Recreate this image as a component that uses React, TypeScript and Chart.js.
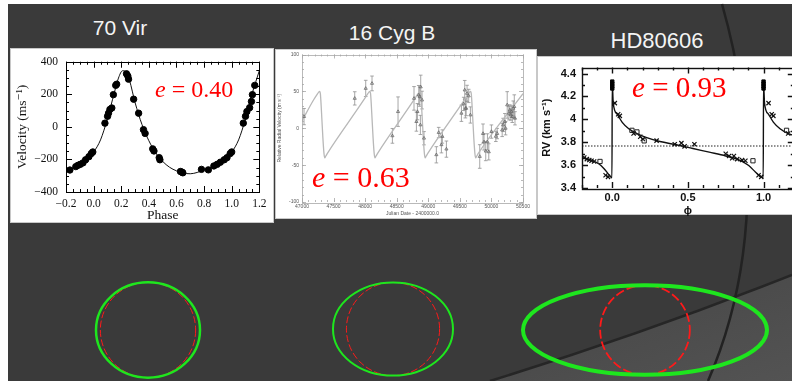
import React, { useEffect, useRef } from "react";
import { Chart, registerables } from "chart.js";

Chart.register(...registerables);

// ---------------- 70 Vir ----------------
const virPhase = [-0.172, -0.129, -0.113, -0.096, -0.077, -0.058, -0.034, -0.017, -0.006, 0.082, 0.101, 0.108, 0.118, 0.132, 0.143, 0.16, 0.167, 0.238, 0.248, 0.253, 0.29, 0.326, 0.361, 0.373, 0.428, 0.437, 0.475, 0.48, 0.629, 0.64, 0.646, 0.781, 0.831, 0.871, 0.895, 0.918, 0.946, 0.966, 0.989, 1.0, 1.084, 1.1, 1.11, 1.13, 1.143, 1.15, 1.167];
const virVel = [-265, -244, -236, -230, -221, -202, -183, -164, -154, 23, 65, 84, 107, 116, 198, 255, 262, 326, 312, 293, 170, 84, -17, -40, -135, -148, -189, -202, -274, -278, -282, -261, -264, -240, -230, -217, -202, -189, -164, -154, 23, 65, 94, 118, 156, 198, 255];
const virModelPhase = [-0.2, -0.15, -0.1, -0.05, 0.0, 0.05, 0.1, 0.15, 0.18, 0.21, 0.23, 0.26, 0.3, 0.35, 0.4, 0.45, 0.5, 0.55, 0.6, 0.65, 0.7, 0.75, 0.8, 0.85, 0.9, 0.95, 1.0, 1.05, 1.1, 1.15, 1.2];
const virModelVel = [-272, -252, -230, -205, -155, -80, 50, 210, 300, 345, 340, 285, 150, 15, -85, -160, -212, -248, -270, -284, -288, -280, -264, -250, -228, -200, -155, -80, 50, 210, 345];
const virXTicks = [-0.2, 0, 0.2, 0.4, 0.6, 0.8, 1.0, 1.2];
const virXLabels = ["\u22120.2", "0.0", "0.2", "0.4", "0.6", "0.8", "1.0", "1.2"];
const virYTicks = [-400, -200, 0, 200, 400];
const virYLabels = ["\u2212400", "\u2212200", "0", "200", "400"];

// ---------------- 16 Cyg B ----------------
const cygJD = [47032, 47835, 48009, 48109, 48432, 48521, 48774, 48812, 48828, 48849, 48864, 48880, 48901, 48875, 48932, 49128, 49165, 49208, 49223, 49287, 49525, 49561, 49588, 49577, 49614, 49640, 49667, 49600, 49815, 49867, 49883, 49910, 49937, 49958, 50000, 50070, 50091, 50186, 50213, 50224, 50250, 50277, 50292, 50308, 50319, 50330, 50346, 50362, 50373, 50170];
const cygRV = [15.8, 40.5, 54, 60.8, -10.3, 22.5, 40.5, 9, 22.5, 45, 42.8, 56, 38.2, 4.5, -13.5, -36, -5.8, -22.4, -11.2, -28.3, 20.3, 33, 27, 51.8, 47.3, 43.8, 18, 27, -38.3, -7.2, -18.5, -31, -18.5, -32, -4.5, -11, -7.2, 4.5, 9, 0, 31.6, 20.3, 24.8, 18, 22.5, 15.8, 27, 29.3, 13.5, -2.3];
const cygErr = [11, 9, 11, 10, 10, 20, 16, 13, 11, 13, 13, 16, 12, 13, 9, 11, 7, 11, 9, 11, 11, 9, 13, 13, 11, 9, 11, 10, 16, 13, 11, 13, 11, 11, 9, 7, 7, 9, 11, 9, 18, 9, 7, 7, 8, 8, 10, 16, 9, 9];
const cygModelJD = [47000, 47180, 47240, 47265, 47280, 47292, 47310, 47330, 47348, 47360, 47375, 47410, 47975, 48035, 48060, 48075, 48087, 48105, 48125, 48143, 48155, 48170, 48205, 48770, 48830, 48855, 48870, 48882, 48900, 48920, 48938, 48950, 48965, 49000, 49570, 49630, 49655, 49670, 49682, 49700, 49720, 49738, 49750, 49765, 49800, 50500];
const cygModelRV = [10, 38, 46, 49, 50, 46, 20, -12, -34, -40, -38, -33, 38, 46, 49, 50, 46, 20, -12, -34, -40, -38, -33, 38, 46, 49, 50, 46, 20, -12, -34, -40, -38, -33, 38, 46, 49, 50, 46, 20, -12, -34, -40, -38, -33, 47];
const cygXTicks = [47000, 47500, 48000, 48500, 49000, 49500, 50000, 50500];
const cygXLabels = ["47000", "47500", "48000", "48500", "49000", "49500", "50000", "50500"];
const cygYTicks = [-100, -50, 0, 50, 100];
const cygYLabels = ["-100", "-50", "0", "50", "100"];

// ---------------- HD80606 ----------------
const hdModelPhase = [-0.2, -0.142, -0.087, -0.054, -0.028, -0.01, -0.002, 0.0, 0.0065, 0.033, 0.066, 0.109, 0.163, 0.228, 0.315, 0.424, 0.533, 0.641, 0.75, 0.837, 0.902, 0.946, 0.978, 0.998, 1.0, 1.0065, 1.033, 1.066, 1.109, 1.163, 1.2];
const hdModelRV = [3.662, 3.644, 3.61, 3.568, 3.526, 3.497, 3.49, 4.32, 4.142, 4.044, 3.974, 3.918, 3.876, 3.84, 3.806, 3.778, 3.745, 3.713, 3.68, 3.646, 3.596, 3.54, 3.503, 3.49, 4.32, 4.142, 4.044, 3.974, 3.918, 3.876, 3.86];
const hdCrossPhase = [-0.185, -0.168, -0.152, -0.137, -0.12, -0.044, -0.028, 0.017, 0.039, 0.05, 0.141, 0.185, 0.202, 0.293, 0.413, 0.457, 0.478, 0.543, 0.75, 0.772, 0.793, 0.804, 0.826, 0.858, 0.88, 0.967, 0.985, 1.033, 1.054, 1.065, 1.163];
const hdCrossRV = [3.666, 3.652, 3.644, 3.638, 3.632, 3.512, 3.497, 4.142, 4.044, 4.03, 3.876, 3.848, 3.828, 3.814, 3.783, 3.792, 3.764, 3.783, 3.699, 3.68, 3.66, 3.68, 3.652, 3.644, 3.638, 3.512, 3.497, 4.142, 4.044, 4.03, 3.876];
const hdSquarePhase = [-0.081, 0.13, 0.163, 0.211, 0.93, 1.152];
const hdSquareRV = [3.632, 3.904, 3.89, 3.812, 3.638, 3.904];
const hdPeakPhase = [0, 0, 0, 0, 1, 1, 1, 1];
const hdPeakRV = [4.33, 4.31, 4.29, 4.27, 4.33, 4.31, 4.29, 4.27];
const hdMeanRV = 3.767;
const hdXTicks = [0, 0.5, 1.0];
const hdXLabels = ["0.0", "0.5", "1.0"];
const hdYTicks = [3.4, 3.6, 3.8, 4.0, 4.2, 4.4];
const hdYLabels = ["3.4", "3.6", "3.8", "4", "4.2", "4.4"];

// ---------------- Orbits ----------------
const starNames = ["70 Vir", "16 Cyg B", "HD80606"];
const eccentricities = [0.40, 0.63, 0.93];
const eccLabels = ["0.40", "0.63", "0.93"];

// ---------------- helpers ----------------
const pts = (xs: number[], ys: number[]) => xs.map((x, i) => ({ x, y: ys[i] }));
const labelFor = (ticks: number[], labels: string[]) => (v: any) => {
  const i = ticks.findIndex((t) => Math.abs(t - Number(v)) < 1e-6);
  return i >= 0 ? labels[i] : "";
};
const setTicks = (ticks: number[]) => (s: any) => {
  s.ticks = ticks.map((v) => ({ value: v }));
};

const frameTicks = {
  id: "frameTicks",
  afterDatasetsDraw(chart: any, _a: any, o: any) {
    const { ctx, chartArea: a, scales } = chart;
    ctx.save();
    ctx.strokeStyle = o.color;
    ctx.lineWidth = o.width;
    ctx.beginPath();
    const marks = (scale: any, step: number, len: number, horiz: boolean) => {
      const n0 = Math.ceil(scale.min / step - 1e-6);
      const n1 = Math.floor(scale.max / step + 1e-6);
      for (let n = n0; n <= n1; n++) {
        const p = Math.round(scale.getPixelForValue(n * step)) + 0.5;
        if (horiz) {
          ctx.moveTo(p, a.bottom); ctx.lineTo(p, a.bottom - len);
          ctx.moveTo(p, a.top); ctx.lineTo(p, a.top + len);
        } else {
          ctx.moveTo(a.left, p); ctx.lineTo(a.left + len, p);
          ctx.moveTo(a.right, p); ctx.lineTo(a.right - len, p);
        }
      }
    };
    marks(scales.x, o.xMinor, o.minorLen, true);
    marks(scales.x, o.xMajor, o.majorLen, true);
    marks(scales.y, o.yMinor, o.minorLen, false);
    marks(scales.y, o.yMajor, o.majorLen, false);
    ctx.stroke();
    ctx.strokeRect(Math.round(a.left) + 0.5, Math.round(a.top) + 0.5, Math.round(a.width), Math.round(a.height));
    ctx.restore();
  },
};

const errorBars = {
  id: "errorBars",
  beforeDatasetsDraw(chart: any, _a: any, o: any) {
    const { ctx, scales } = chart;
    chart.data.datasets.forEach((ds: any) => {
      if (!ds.errorBars) return;
      ctx.save();
      ctx.strokeStyle = o.color;
      ctx.lineWidth = o.width;
      ctx.beginPath();
      ds.data.forEach((p: any, i: number) => {
        const e = ds.errorBars[i];
        const px = scales.x.getPixelForValue(p.x);
        const t = scales.y.getPixelForValue(p.y + e);
        const b = scales.y.getPixelForValue(p.y - e);
        ctx.moveTo(px, t); ctx.lineTo(px, b);
        ctx.moveTo(px - o.cap, t); ctx.lineTo(px + o.cap, t);
        ctx.moveTo(px - o.cap, b); ctx.lineTo(px + o.cap, b);
      });
      ctx.stroke();
      ctx.restore();
    });
  },
};

const SERIF = "'Liberation Serif', 'DejaVu Serif', serif";
const SANS = "'Liberation Sans', Arial, sans-serif";

function virConfig(): any {
  const f = { family: SERIF, size: 11.5, lineHeight: 1 };
  const ft = { family: SERIF, size: 13.5, lineHeight: 1 };
  return {
    type: "scatter",
    data: {
      datasets: [
        { data: pts(virPhase, virVel), pointRadius: 3.2, pointBackgroundColor: "#000", pointBorderColor: "#000", showLine: false },
        { data: pts(virModelPhase, virModelVel), showLine: true, borderColor: "#111", borderWidth: 1, pointRadius: 0, cubicInterpolationMode: "monotone" },
      ],
    },
    options: {
      animation: false, responsive: false, maintainAspectRatio: false,
      layout: { padding: { left: 0, right: 10, top: 6.5, bottom: 0 } },
      plugins: {
        legend: { display: false }, tooltip: { enabled: false },
        frameTicks: { color: "#000", width: 1, xMajor: 0.2, xMinor: 0.05, yMajor: 200, yMinor: 50, majorLen: 6, minorLen: 3 },
      },
      scales: {
        x: {
          type: "linear", min: -0.2, max: 1.2, afterBuildTicks: setTicks(virXTicks), afterFit: (s: any) => { s.height = 30; },
          grid: { display: false, drawTicks: false }, border: { display: false },
          ticks: { callback: labelFor(virXTicks, virXLabels), font: f, color: "#111", padding: 6.5, maxRotation: 0, autoSkip: false },
          title: { display: true, text: "Phase", font: ft, color: "#111", padding: 0 },
        },
        y: {
          type: "linear", min: -400, max: 400, afterBuildTicks: setTicks(virYTicks), afterFit: (s: any) => { s.width = 59; },
          grid: { display: false, drawTicks: false }, border: { display: false },
          ticks: { callback: labelFor(virYTicks, virYLabels), font: f, color: "#111", padding: 8, autoSkip: false },
          title: { display: true, text: "Velocity (ms\u207B\u00B9)", font: ft, color: "#111", padding: { top: 9, bottom: 0 } },
        },
      },
    },
    plugins: [frameTicks],
  };
}

function cygConfig(): any {
  const f = { family: SANS, size: 5, lineHeight: 1 };
  return {
    type: "scatter",
    data: {
      datasets: [
        { data: pts(cygJD, cygRV), errorBars: cygErr, pointStyle: "triangle", pointRadius: 1.8, pointBorderWidth: 0.8, pointBackgroundColor: "rgba(0,0,0,0)", pointBorderColor: "#6a6a6a", showLine: false },
        { data: pts(cygModelJD, cygModelRV), showLine: true, borderColor: "#b8b8b8", borderWidth: 1.3, pointRadius: 0, cubicInterpolationMode: "monotone" },
      ],
    },
    options: {
      animation: false, responsive: false, maintainAspectRatio: false,
      layout: { padding: { left: 0, right: 13, top: 4, bottom: 0 } },
      plugins: {
        legend: { display: false }, tooltip: { enabled: false },
        errorBars: { color: "#909090", width: 0.8, cap: 1.8 },
        frameTicks: { color: "#a8a8a8", width: 0.8, xMajor: 500, xMinor: 100, yMajor: 50, yMinor: 10, majorLen: 4, minorLen: 2 },
      },
      scales: {
        x: {
          type: "linear", min: 47000, max: 50500, afterBuildTicks: setTicks(cygXTicks), afterFit: (s: any) => { s.height = 16; },
          grid: { display: false, drawTicks: false }, border: { display: false },
          ticks: { callback: labelFor(cygXTicks, cygXLabels), font: f, color: "#555", padding: 2, maxRotation: 0, autoSkip: false },
          title: { display: true, text: "Julian Date - 2400000.0", font: f, color: "#555", padding: { top: 0, bottom: 2 } },
        },
        y: {
          type: "linear", min: -100, max: 100, afterBuildTicks: setTicks(cygYTicks), afterFit: (s: any) => { s.width = 30; },
          grid: { display: false, drawTicks: false }, border: { display: false },
          ticks: { callback: labelFor(cygYTicks, cygYLabels), font: f, color: "#555", padding: 3, autoSkip: false },
          title: { display: true, text: "Relative Radial Velocity (m s\u207B\u00B9)", font: f, color: "#555", padding: { top: 5, bottom: 0 } },
        },
      },
    },
    plugins: [frameTicks, errorBars],
  };
}

function hdConfig(): any {
  const f = { family: SANS, size: 11, weight: "bold", lineHeight: 1 };
  return {
    type: "scatter",
    data: {
      datasets: [
        { data: pts(hdCrossPhase, hdCrossRV), pointStyle: "crossRot", pointRadius: 3, pointBorderWidth: 1.2, pointBorderColor: "#111", showLine: false },
        { data: pts(hdSquarePhase, hdSquareRV), pointStyle: "rect", pointRadius: 3, pointBorderWidth: 1, pointBackgroundColor: "rgba(0,0,0,0)", pointBorderColor: "#222", showLine: false },
        { data: pts(hdPeakPhase, hdPeakRV), pointStyle: "rect", pointRadius: 2.4, pointBackgroundColor: "#000", pointBorderColor: "#000", showLine: false },
        { data: pts(hdModelPhase, hdModelRV), showLine: true, borderColor: "#111", borderWidth: 1.4, pointRadius: 0, cubicInterpolationMode: "monotone" },
        { data: [{ x: -0.2, y: hdMeanRV }, { x: 1.2, y: hdMeanRV }], showLine: true, borderColor: "#222", borderWidth: 1.2, borderDash: [1.5, 1.5], pointRadius: 0 },
      ],
    },
    options: {
      animation: false, responsive: false, maintainAspectRatio: false,
      layout: { padding: { left: 0, right: 3, top: 7, bottom: 0 } },
      plugins: {
        legend: { display: false }, tooltip: { enabled: false },
        frameTicks: { color: "#111", width: 1.4, xMajor: 0.5, xMinor: 0.1, yMajor: 0.2, yMinor: 0.1, majorLen: 6, minorLen: 3 },
      },
      scales: {
        x: {
          type: "linear", min: -0.2, max: 1.2, afterBuildTicks: setTicks(hdXTicks), afterFit: (s: any) => { s.height = 28; },
          grid: { display: false, drawTicks: false }, border: { display: false },
          ticks: { callback: labelFor(hdXTicks, hdXLabels), font: f, color: "#111", padding: 4, maxRotation: 0, autoSkip: false },
          title: { display: true, text: "\u03D5", font: f, color: "#111", padding: 0 },
        },
        y: {
          type: "linear", min: 3.4, max: 4.453, afterBuildTicks: setTicks(hdYTicks), afterFit: (s: any) => { s.width = 45; },
          grid: { display: false, drawTicks: false }, border: { display: false },
          ticks: { callback: labelFor(hdYTicks, hdYLabels), font: f, color: "#111", padding: 6, autoSkip: false },
          title: { display: true, text: "RV (km s\u207B\u00B9)", font: f, color: "#111", padding: { top: 4, bottom: 0 } },
        },
      },
    },
    plugins: [frameTicks],
  };
}

const abs = (l: number, t: number, w: number, h: number): React.CSSProperties => ({ position: "absolute", left: l, top: t, width: w, height: h });

export default function App() {
  const c1 = useRef<HTMLCanvasElement>(null);
  const c2 = useRef<HTMLCanvasElement>(null);
  const c3 = useRef<HTMLCanvasElement>(null);

  useEffect(() => {
    const charts = [
      new Chart(c1.current as HTMLCanvasElement, virConfig()),
      new Chart(c2.current as HTMLCanvasElement, cygConfig()),
      new Chart(c3.current as HTMLCanvasElement, hdConfig()),
    ];
    return () => charts.forEach((c) => c.destroy());
  }, []);

  const titleStyle = (cx: number, top: number, size: number): React.CSSProperties => ({
    position: "absolute", left: cx - 100, top, width: 200, textAlign: "center",
    fontFamily: SANS, fontSize: size, lineHeight: `${size}px`, color: "#f4f4f4", whiteSpace: "nowrap",
  });
  const eStyle = (left: number, top: number, size: number): React.CSSProperties => ({
    position: "absolute", left, top, fontFamily: SERIF, fontSize: size, lineHeight: `${size}px`, color: "#ff0000", whiteSpace: "nowrap",
  });

  // orbit layout (centre, semi-major axis in px); minor axis from eccentricity
  const orbitLayout = [
    { cx: 148, cy: 330, a: 52, w: 2.5, dash: "7 2.5", rw: 1 },
    { cx: 393, cy: 329, a: 60, w: 2, dash: "7 2.5", rw: 1 },
    { cx: 645, cy: 330, a: 122, w: 4, dash: "9 3", rw: 1.8 },
  ];

  const panel: React.CSSProperties = { position: "absolute", background: "#fff", border: "1px solid #c8c8c8", boxSizing: "border-box" };

  return (
    <div style={{ position: "fixed", left: 0, top: 0, width: 792, height: 381, overflow: "hidden", background: "#fff" }}>
      <svg width={792} height={381} style={{ position: "absolute", left: 0, top: 0 }}>
        <defs>
          <linearGradient id="lowerFill" x1="0" y1="0" x2="1" y2="1">
            <stop offset="0" stopColor="#444444" />
            <stop offset="1" stopColor="#535353" />
          </linearGradient>
        </defs>
        <rect x={8} y={4} width={784} height={377} fill="#3a3a3a" />
        <path d="M 490 381 Q 640 335 792 275 L 792 381 Z" fill="url(#lowerFill)" />
        <path d="M 490 381 Q 640 335 792 275" fill="none" stroke="#262626" strokeWidth={2.5} />
        <path d="M 722 4 C 752 110 765 250 708 381" fill="none" stroke="#222" strokeWidth={2.5} />
      </svg>

      <div style={titleStyle(120, 17, 21)}>{starNames[0]}</div>
      <div style={titleStyle(392, 22, 21)}>{starNames[1]}</div>
      <div style={titleStyle(657, 30, 22)}>{starNames[2]}</div>

      <div style={{ ...panel, left: 10, top: 48, width: 264, height: 175 }} />
      <div style={{ ...panel, left: 275, top: 49, width: 262, height: 170 }} />
      <div style={{ ...panel, left: 537, top: 56, width: 270, height: 159 }} />

      <canvas ref={c1} width={266} height={174} style={abs(7, 48, 266, 174)} />
      <canvas ref={c2} width={264} height={169} style={abs(272, 49, 264, 169)} />
      <canvas ref={c3} width={262} height={160} style={abs(537, 56, 262, 160)} />

      <div style={eStyle(155, 77, 24)}><i>e</i> = {eccLabels[0]}</div>
      <div style={eStyle(312, 162, 30)}><i>e</i> = {eccLabels[1]}</div>
      <div style={eStyle(632, 73, 29)}><i>e</i> = {eccLabels[2]}</div>

      <svg width={792} height={381} style={{ position: "absolute", left: 0, top: 0 }}>
        {orbitLayout.map((o, i) => {
          const b = o.a * Math.sqrt(1 - eccentricities[i] * eccentricities[i]);
          return (
            <g key={i}>
              <circle cx={o.cx} cy={o.cy} r={b} fill="none" stroke="#ff1a1a" strokeWidth={o.rw} strokeDasharray={o.dash} />
              <ellipse cx={o.cx} cy={o.cy} rx={o.a} ry={b} fill="none" stroke="#1ee61e" strokeWidth={o.w} />
            </g>
          );
        })}
      </svg>
    </div>
  );
}
